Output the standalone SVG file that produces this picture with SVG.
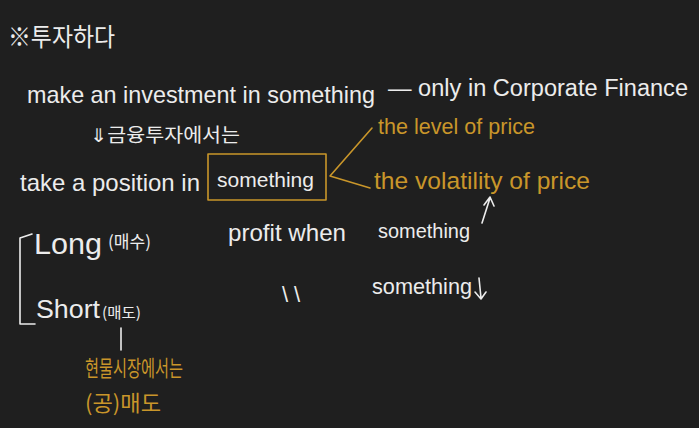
<svg xmlns="http://www.w3.org/2000/svg" width="699" height="428" viewBox="0 0 699 428">
<defs>
<style>
.w{fill:#ececec;font-family:"Liberation Sans","Noto Sans CJK KR",sans-serif;}
.g{fill:#c9962a;font-family:"Liberation Sans","Noto Sans CJK KR",sans-serif;}
.k{font-family:"Noto Sans CJK KR","Liberation Sans",sans-serif;}
.lw{stroke:#ececec;stroke-width:1.6;fill:none;stroke-linecap:round;stroke-linejoin:round;}
.lg{stroke:#c9962a;stroke-width:1.6;fill:none;stroke-linecap:round;stroke-linejoin:round;}
</style>
</defs>
<rect x="0" y="0" width="699" height="428" fill="#1f1f1f"/>

<g id="title"><text class="w k" x="8" y="46" font-size="25" textLength="107" lengthAdjust="spacingAndGlyphs">※투자하다</text></g>

<g id="make-investment"><text class="w" x="27" y="103" font-size="23.4" textLength="348" lengthAdjust="spacingAndGlyphs">make an investment in something</text></g>
<g id="corporate-finance"><text class="w" x="388" y="96" font-size="23.5" textLength="300" lengthAdjust="spacingAndGlyphs">— only in Corporate Finance</text></g>

<g id="financial-note"><text class="w k" x="90" y="142" font-size="19" textLength="150" lengthAdjust="spacingAndGlyphs">⇓금융투자에서는</text></g>

<g id="take-position"><text class="w" x="20" y="191" font-size="24" textLength="180" lengthAdjust="spacingAndGlyphs">take a position in</text></g>

<g id="something-box">
<rect class="lg" x="208" y="154" width="118" height="46"/>
<text class="w" x="217" y="187" font-size="21" textLength="97" lengthAdjust="spacingAndGlyphs">something</text>
</g>

<g id="level"><text class="g" x="378" y="134" font-size="21.5" textLength="157" lengthAdjust="spacingAndGlyphs">the level of price</text></g>
<g id="volatility"><text class="g" x="374" y="189" font-size="24.5" textLength="216" lengthAdjust="spacingAndGlyphs">the volatility of price</text></g>

<g id="long"><text class="w" x="34" y="254" font-size="29" textLength="68" lengthAdjust="spacingAndGlyphs">Long</text><text class="w k" x="108" y="248" font-size="17" textLength="43" lengthAdjust="spacingAndGlyphs">(매수)</text></g>
<g id="short"><text class="w" x="36" y="318" font-size="26.5" textLength="64" lengthAdjust="spacingAndGlyphs">Short</text><text class="w k" x="102" y="318" font-size="15" textLength="39" lengthAdjust="spacingAndGlyphs">(매도)</text></g>

<g id="profit"><text class="w" x="228" y="241" font-size="24" textLength="118" lengthAdjust="spacingAndGlyphs">profit when</text></g>
<g id="something-up"><text class="w" x="378" y="238" font-size="20" textLength="92" lengthAdjust="spacingAndGlyphs">something</text></g>
<g id="ditto"><text class="w" x="282" y="302" font-size="22" letter-spacing="6">\\</text></g>
<g id="something-down"><text class="w" x="372" y="294" font-size="21.5" textLength="100" lengthAdjust="spacingAndGlyphs">something</text></g>

<g id="spot-note">
<text class="g k" x="85" y="376" font-size="22" textLength="98" lengthAdjust="spacingAndGlyphs">현물시장에서는</text>
<text class="g k" x="85" y="411" font-size="22" textLength="76" lengthAdjust="spacingAndGlyphs">(공)매도</text>
</g>

<g id="connectors">
<path class="lg" d="M372,128 L330,176 L370,188"/>
<path class="lw" d="M482,223 L490,198 M484,205 L490,197 L494,206"/>
<path class="lw" d="M479,278 L481,298 M475,292 L481,299 L486,292"/>
<path class="lw" d="M32,234 L20,238 L20,324 L35,324"/>
<path class="lw" d="M121,328 L121,350"/>
</g>
</svg>
